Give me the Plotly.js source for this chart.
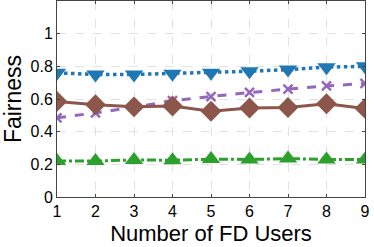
<!DOCTYPE html>
<html><head><meta charset="utf-8">
<script src="https://cdn.plot.ly/plotly-3.0.1.min.js"></script>
<style>html,body{margin:0;padding:0;background:#fff}#chart{width:374px;height:247px}</style>
</head><body><div id="chart"></div>
<script>
const users = [1,2,3,4,5,6,7,8,9];
const blueSeries = [0.76,0.75,0.75,0.755,0.76,0.77,0.78,0.795,0.80];
const purpleSeries = [0.485,0.515,0.55,0.59,0.615,0.64,0.66,0.68,0.695];
const brownSeries = [0.585,0.565,0.552,0.557,0.525,0.545,0.548,0.571,0.542];
const greenSeries = [0.22,0.22,0.227,0.225,0.232,0.23,0.235,0.23,0.23];
const yTicks = [0,0.2,0.4,0.6,0.8,1];
const yTickText = ["0","0.2","0.4","0.6","0.8","1"];

const traces = [
  {x:users,y:greenSeries,mode:'lines+markers',line:{color:'#2ca02c',width:3,dash:'dashdot'},marker:{symbol:'triangle-up',size:16,color:'#2ca02c'}},
  {x:users,y:purpleSeries,mode:'lines+markers',line:{color:'#9467bd',width:3,dash:'dash'},marker:{symbol:'x-thin-open',size:9,color:'#9467bd',line:{width:2.5,color:'#9467bd'}}},
  {x:users,y:brownSeries,mode:'lines+markers',line:{color:'#8c564b',width:3},marker:{symbol:'diamond',size:16,color:'#8c564b'}},
  {x:users,y:blueSeries,mode:'lines+markers',line:{color:'#1f77b4',width:3.5,dash:'dot'},marker:{symbol:'triangle-down',size:16,color:'#1f77b4'}}
];
const axisCommon = {showline:true,mirror:'ticks',linecolor:'#444',linewidth:1,ticks:'inside',ticklen:3,tickcolor:'#444',
  showgrid:true,gridcolor:'#e2e2e2',griddash:'dash',gridwidth:1,zeroline:false,
  tickfont:{family:'Liberation Sans, Arial, sans-serif',size:16,color:'#000'}};
const layout = {
  width:374,height:247,margin:{l:57,r:9,t:1,b:50},
  paper_bgcolor:'#fff',plot_bgcolor:'#fff',showlegend:false,
  xaxis:Object.assign({},axisCommon,{range:[1,9],tickvals:users,ticktext:users.map(String),
    title:{text:'Number of FD Users',font:{family:'Liberation Sans, Arial, sans-serif',size:22,color:'#000'},standoff:6}}),
  yaxis:Object.assign({},axisCommon,{range:[0,1.2],tickvals:yTicks,ticktext:yTickText,
    title:{text:'Fairness',font:{family:'Liberation Sans, Arial, sans-serif',size:23,color:'#000'},standoff:4}})
};
Plotly.newPlot('chart',traces,layout,{staticPlot:true,displayModeBar:false});
</script></body></html>
